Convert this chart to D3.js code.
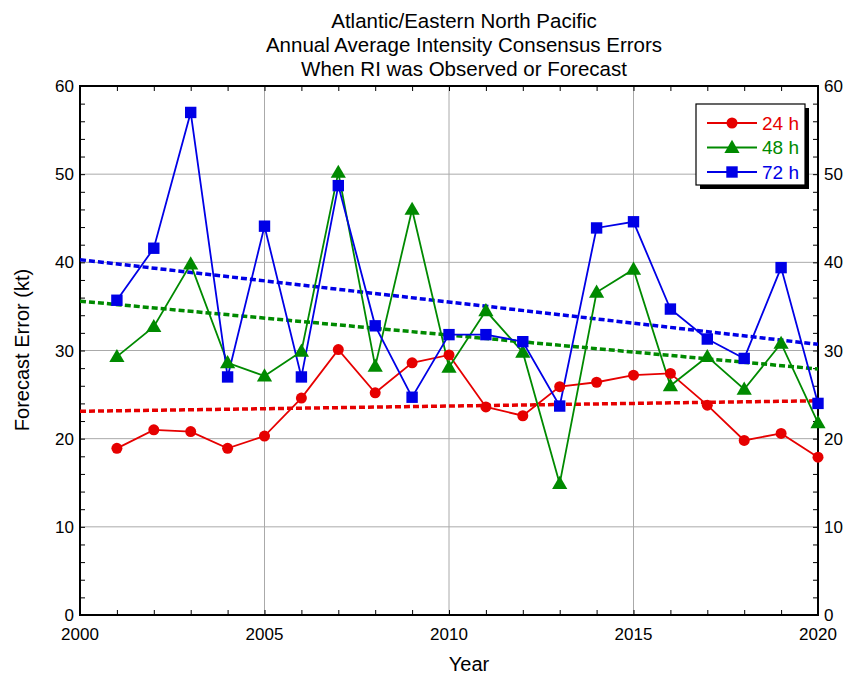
<!DOCTYPE html>
<html><head><meta charset="utf-8">
<script src="https://cdn.jsdelivr.net/npm/d3@7/dist/d3.min.js"></script>
<style>body{margin:0;background:#fff;} svg{display:block;}</style>
</head><body>
<svg id="chart" width="846" height="678"></svg>
<script>
const years = d3.range(2001, 2021);
const err24 = [18.9,21.0,20.8,18.9,20.3,24.6,30.1,25.2,28.6,29.5,23.6,22.6,25.9,26.4,27.2,27.4,23.8,19.8,20.6,17.9];
const err48 = [29.3,32.7,39.8,28.6,27.1,29.9,50.2,28.2,46.0,28.1,34.5,29.8,14.9,36.6,39.2,26.0,29.3,25.6,30.8,21.8];
const err72 = [35.7,41.6,57.0,27.0,44.1,27.0,48.7,32.8,24.7,31.8,31.8,31.0,23.7,43.9,44.6,34.7,31.3,29.1,39.4,24.0];
const trendYears = [2000, 2020];
const trend24 = [23.1, 24.3];
const trend48 = [35.6, 27.9];
const trend72 = [40.3, 30.7];
const seriesNames = ["24 h","48 h","72 h"];
const colors = ["#e60000","#008a00","#0000e6"];
const titleLines = ["Atlantic/Eastern North Pacific","Annual Average Intensity Consensus Errors","When RI was Observed or Forecast"];
const xTicks = [2000,2005,2010,2015,2020];
const yTicks = [0,10,20,30,40,50,60];

const svg = d3.select("#chart");
const L=80, R=818, T=86, B=615;
const x = d3.scaleLinear().domain([2000,2020]).range([L,R]);
const y = d3.scaleLinear().domain([0,60]).range([B,T]);
const font = "Liberation Sans, Arial, sans-serif";

// grid
const g = svg.append("g");
g.selectAll(".gx").data(xTicks.slice(1,-1)).enter().append("line")
  .attr("x1",d=>x(d)).attr("x2",d=>x(d)).attr("y1",T).attr("y2",B)
  .attr("stroke","#aaa").attr("stroke-width",1);
g.selectAll(".gy").data(yTicks.slice(1,-1)).enter().append("line")
  .attr("y1",d=>y(d)).attr("y2",d=>y(d)).attr("x1",L).attr("x2",R)
  .attr("stroke","#aaa").attr("stroke-width",1);

// axes with inner minor ticks
const minorX = d3.range(2000,2021);
const minorY = d3.range(0,61,2);
svg.append("g").attr("transform",`translate(0,${B})`)
  .call(d3.axisTop(x).tickValues(minorX).tickSize(5).tickFormat(""))
  .call(s=>s.select(".domain").remove());
svg.append("g").attr("transform",`translate(0,${T})`)
  .call(d3.axisBottom(x).tickValues(minorX).tickSize(5).tickFormat(""))
  .call(s=>s.select(".domain").remove());
svg.append("g").attr("transform",`translate(${L},0)`)
  .call(d3.axisRight(y).tickValues(minorY).tickSize(5).tickFormat(""))
  .call(s=>s.select(".domain").remove());
svg.append("g").attr("transform",`translate(${R},0)`)
  .call(d3.axisLeft(y).tickValues(minorY).tickSize(5).tickFormat(""))
  .call(s=>s.select(".domain").remove());
svg.selectAll(".tick line").attr("stroke","#000").attr("stroke-width",1);

// labels
const tl = svg.append("g").attr("font-family",font).attr("font-size",17).attr("fill","#000");
tl.selectAll(".yl").data(yTicks).enter().append("text")
  .attr("x",L-6).attr("y",d=>y(d)).attr("dy","0.36em").attr("text-anchor","end").text(d=>d);
tl.selectAll(".yr").data(yTicks).enter().append("text")
  .attr("x",R+6).attr("y",d=>y(d)).attr("dy","0.36em").attr("text-anchor","start").text(d=>d);
tl.selectAll(".xl").data(xTicks).enter().append("text")
  .attr("x",d=>x(d)).attr("y",B+25).attr("text-anchor","middle").text(d=>d);

// frame
svg.append("rect").attr("x",L).attr("y",T).attr("width",R-L).attr("height",B-T)
  .attr("fill","none").attr("stroke","#000").attr("stroke-width",2);

// titles
svg.append("g").selectAll("text").data(titleLines).enter().append("text")
  .attr("x",464).attr("y",(d,i)=>28+i*23.8).attr("text-anchor","middle")
  .attr("font-family",font).attr("font-size",20.5).text(d=>d);
svg.append("text").attr("x",469).attr("y",671).attr("text-anchor","middle")
  .attr("font-family",font).attr("font-size",20).text("Year");
svg.append("text").attr("transform","translate(29,350) rotate(-90)").attr("text-anchor","middle")
  .attr("font-family",font).attr("font-size",20).text("Forecast Error (kt)");

// trend lines
const trends=[trend24,trend48,trend72];
svg.append("defs").append("clipPath").attr("id","clip").append("rect")
  .attr("x",L).attr("y",T).attr("width",R-L).attr("height",B-T);
const lineT = d3.line().x((d,i)=>x(trendYears[i])).y(d=>y(d));
trends.forEach((t,k)=>{
  svg.append("path").attr("d",lineT(t)).attr("fill","none").attr("stroke",colors[k])
    .attr("stroke-width",3.5).attr("stroke-dasharray","6,3").attr("clip-path","url(#clip)");
});

// series
const series=[err24,err48,err72];
const line = d3.line().x((d,i)=>x(years[i])).y(d=>y(d));
const symTypes=[d3.symbolCircle,d3.symbolTriangle,d3.symbolSquare];
const symSizes=[95,100,130];
series.forEach((s,k)=>{
  svg.append("path").attr("d",line(s)).attr("fill","none").attr("stroke",colors[k]).attr("stroke-width",1.8);
});
series.forEach((s,k)=>{
  svg.append("g").selectAll("path").data(s).enter().append("path")
    .attr("transform",(d,i)=>`translate(${x(years[i])},${y(d) + (k===1?1:0)})`)
    .attr("d",d3.symbol().type(symTypes[k]).size(symSizes[k])).attr("fill",colors[k]);
});

// legend
const lg = svg.append("g");
lg.append("rect").attr("x",700).attr("y",108).attr("width",109).attr("height",81).attr("fill","#000");
lg.append("rect").attr("x",696).attr("y",104).attr("width",109).attr("height",81).attr("fill","#fff").attr("stroke","#000").attr("stroke-width",1.2);
seriesNames.forEach((n,k)=>{
  const yy = 123 + k*24.5;
  lg.append("line").attr("x1",707).attr("x2",757).attr("y1",yy).attr("y2",yy).attr("stroke",colors[k]).attr("stroke-width",1.8);
  lg.append("path").attr("transform",`translate(732,${yy + (k===1?1:0)})`).attr("d",d3.symbol().type(symTypes[k]).size(symSizes[k])).attr("fill",colors[k]);
  lg.append("text").attr("x",762).attr("y",yy).attr("dy","0.36em").attr("font-family",font).attr("font-size",19).attr("fill",colors[k]).text(n);
});
</script>
</body></html>
